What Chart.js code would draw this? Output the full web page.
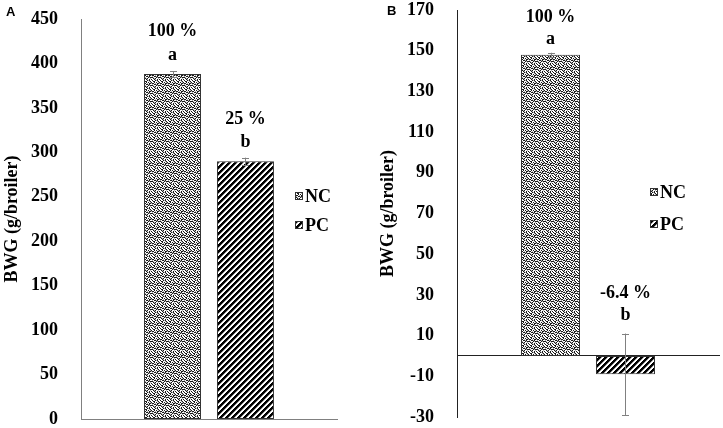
<!DOCTYPE html>
<html>
<head>
<meta charset="utf-8">
<script src="https://cdn.jsdelivr.net/npm/chart.js@4.4.0/dist/chart.umd.min.js"></script>
<style>
  html, body { margin:0; padding:0; background:#fff; }
  #wrap { position:relative; width:723px; height:428px; overflow:hidden; }
  .pane { position:absolute; top:0; height:428px; }
  .pane canvas { display:block; }
  .letter { position:absolute; font-family:"Liberation Sans", Arial, sans-serif; font-weight:bold; font-size:13px; color:#000; }
</style>
</head>
<body>
<div id="wrap">
  <div class="pane" style="left:0;width:361px;"><canvas id="cA" width="361" height="428"></canvas></div>
  <div class="pane" style="left:361px;width:362px;"><canvas id="cB" width="362" height="428"></canvas></div>
  <div class="letter" style="left:6px;top:4px;">A</div>
  <div class="letter" style="left:387px;top:3px;">B</div>
</div>
<script>
// ---- data ----
const seriesNames = ['NC', 'PC'];
const categories = [''];
const valuesA = [388, 290];
const errorsA = [3, 4];
const pctLabelsA = ['100 %', '25 %'];
const letterLabelsA = ['a', 'b'];
const yTicksA = [0, 50, 100, 150, 200, 250, 300, 350, 400, 450];

const valuesB = [148, -9];
const errorsB = [1, 20];
const pctLabelsB = ['100 %', '-6.4 %'];
const letterLabelsB = ['a', 'b'];
const yTicksB = [-30, -10, 10, 30, 50, 70, 90, 110, 130, 150, 170];

const yTitle = 'BWG (g/broiler)';
const serif = '"Liberation Serif", "Times New Roman", serif';
const FS = 18;

// ---- patterns ----
function makeDotPattern(ctx) {
  const rows = [
    '10010100',
    '01100010',
    '00101001',
    '11000110',
    '00110100',
    '10001011',
    '01010000',
    '00100101'
  ];
  const c = document.createElement('canvas');
  c.width = 8; c.height = 8;
  const g = c.getContext('2d');
  g.fillStyle = '#fff'; g.fillRect(0,0,8,8);
  for (let y=0;y<8;y++) for (let x=0;x<8;x++) {
    if (rows[y][x]==='1') { g.fillStyle = '#1a1a1a'; g.fillRect(x,y,1,1); }
    else if ((x*3+y)%4===0) { g.fillStyle = '#b0b0b0'; g.fillRect(x,y,1,1); }
  }
  return ctx.createPattern(c, 'repeat');
}
function makeStripePattern(ctx) {
  const n = 6;
  const c = document.createElement('canvas');
  c.width = n; c.height = n;
  const g = c.getContext('2d');
  g.fillStyle = '#fff'; g.fillRect(0,0,n,n);
  for (let y=0;y<n;y++) for (let x=0;x<n;x++) {
    const m = (x+y)%n;
    if (m < 3) { g.fillStyle = '#000'; g.fillRect(x,y,1,1); }
    else if (m === 3) { g.fillStyle = '#999'; g.fillRect(x,y,1,1); }
  }
  return ctx.createPattern(c, 'repeat');
}

// ---- plugin: error bars, labels, legend ----
const annotPlugin = {
  id: 'annot',
  afterDatasetsDraw(chart, args, opts) {
    const ctx = chart.ctx;
    const ys = chart.scales.y;
    ctx.save();
    chart.data.datasets.forEach((ds, i) => {
      const el = chart.getDatasetMeta(i).data[0];
      const v = ds.data[0];
      const e = opts.errors[i];
      const yTop = ys.getPixelForValue(v + e);
      const yBot = ys.getPixelForValue(v - e);
      const x = Math.round(el.x) + 0.5;
      ctx.strokeStyle = '#808080';
      ctx.lineWidth = 1;
      ctx.beginPath();
      ctx.moveTo(x, yTop); ctx.lineTo(x, yBot);
      ctx.moveTo(x-3.5, Math.round(yTop)+0.5); ctx.lineTo(x+3.5, Math.round(yTop)+0.5);
      ctx.moveTo(x-3.5, Math.round(yBot)+0.5); ctx.lineTo(x+3.5, Math.round(yBot)+0.5);
      ctx.stroke();
      const top = Math.min(el.y, el.base, yTop);
      const off = opts.offsets[i];
      ctx.fillStyle = '#000';
      ctx.font = 'bold ' + FS + 'px ' + serif;
      ctx.textAlign = 'center';
      ctx.textBaseline = 'middle';
      ctx.fillText(opts.pct[i], el.x, top + off[0]);
      ctx.fillText(opts.letters[i], el.x, top + off[1]);
    });
    // legend
    const lg = opts.legend;
    chart.data.datasets.forEach((ds, i) => {
      const cy = lg.y[i];
      ctx.fillStyle = ds.backgroundColor;
      ctx.fillRect(lg.x, cy - 4, 8, 8);
      ctx.strokeStyle = '#333';
      ctx.lineWidth = 1;
      ctx.strokeRect(lg.x + 0.5, cy - 3.5, 7, 7);
      ctx.fillStyle = '#000';
      ctx.font = 'bold ' + FS + 'px ' + serif;
      ctx.textAlign = 'left';
      ctx.textBaseline = 'middle';
      ctx.fillText(ds.label, lg.x + 10, cy + 1);
    });
    ctx.restore();
  }
};

function buildChart(id, values, errors, pct, letters, yTicks, cfg) {
  const canvas = document.getElementById(id);
  const ctx = canvas.getContext('2d');
  const fills = [makeDotPattern(ctx), makeStripePattern(ctx)];
  return new Chart(canvas, {
    type: 'bar',
    data: {
      labels: categories,
      datasets: seriesNames.map((name, i) => ({
        label: name,
        data: [values[i]],
        backgroundColor: fills[i],
        borderColor: '#333',
        borderWidth: 1,
        borderSkipped: false,
        categoryPercentage: cfg.catPct,
        barPercentage: cfg.barPct
      }))
    },
    options: {
      responsive: false,
      animation: false,
      devicePixelRatio: 1,
      layout: { padding: cfg.padding },
      plugins: {
        legend: { display: false },
        tooltip: { enabled: false },
        annot: { errors, pct, letters, legend: cfg.legend, offsets: cfg.offsets }
      },
      scales: {
        x: Object.assign({
          ticks: { display: false },
          grid: { display: false },
          border: { display: true, color: cfg.xAxisColor, width: 1 },
          afterFit: s => { s.height = 0; s.paddingLeft = 0; s.paddingRight = 0; }
        }, cfg.xPos ? { position: cfg.xPos } : {}),
        y: {
          min: yTicks[0],
          max: yTicks[yTicks.length - 1],
          afterBuildTicks: s => { s.ticks = yTicks.map(v => ({ value: v })); },
          afterFit: s => { s.width = cfg.yWidth; s.paddingTop = 0; s.paddingBottom = 0; },
          grid: { display: false },
          border: { display: true, color: cfg.yAxisColor, width: 1 },
          ticks: {
            color: '#000',
            padding: 15,
            font: { family: serif, weight: 'bold', size: FS }
          },
          title: {
            display: true,
            text: yTitle,
            color: '#000',
            font: { family: serif, weight: 'bold', size: FS },
            padding: { top: cfg.titlePad, bottom: 0 }
          }
        }
      }
    },
    plugins: [annotPlugin]
  });
}

buildChart('cA', valuesA, errorsA, pctLabelsA, letterLabelsA, yTicksA, {
  padding: { left: 0, top: 19, right: 24, bottom: 9 },
  yWidth: 81, titlePad: 2, catPct: 0.570, barPct: 0.781,
  xAxisColor: '#808080', yAxisColor: '#808080',
  legend: { x: 295, y: [196, 225] },
  offsets: [[-40, -16], [-38, -15]]
});
buildChart('cB', valuesB, errorsB, pctLabelsB, letterLabelsB, yTicksB, {
  padding: { left: 0, top: 10, right: 4, bottom: 11 },
  yWidth: 96, titlePad: 17, catPct: 0.5725, barPct: 0.787,
  xAxisColor: '#222', yAxisColor: '#222', xPos: { y: 0 },
  legend: { x: 289, y: [192, 224] },
  offsets: [[-35, -13], [-40, -18]]
});
</script>
</body>
</html>
